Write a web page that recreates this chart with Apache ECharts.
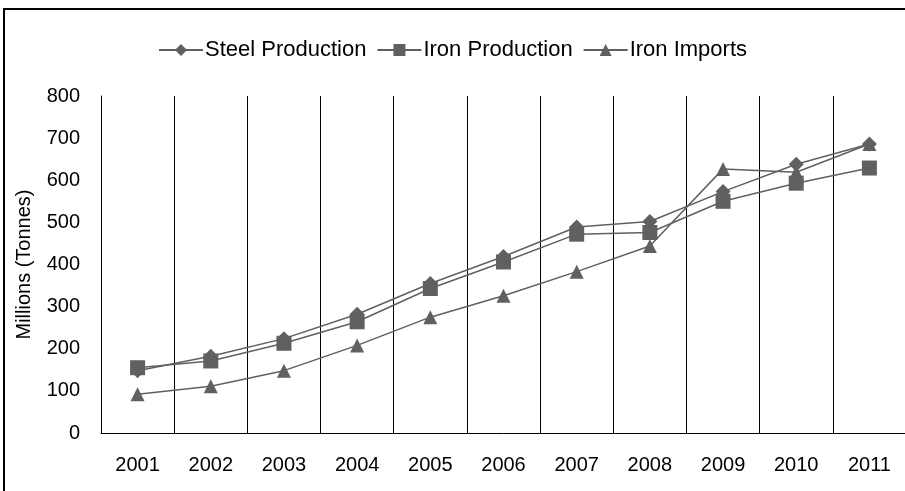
<!DOCTYPE html>
<html><head><meta charset="utf-8">
<script src="https://cdn.jsdelivr.net/npm/echarts@6/dist/echarts.min.js"></script>
<style>html,body{margin:0;padding:0;background:#fff}#c{width:905px;height:491px}</style>
</head><body><div id="c"></div>
<script>
const years = ['2001','2002','2003','2004','2005','2006','2007','2008','2009','2010','2011'];
const steelProduction = [148, 182, 224, 282, 355, 419, 489, 502, 573, 638, 686];
const ironProduction = [155, 171, 213, 264, 343, 406, 472, 476, 550, 593, 629];
const ironImports = [92, 111, 148, 208, 275, 326, 383, 444, 627, 619, 686];
const yTicks = [0, 100, 200, 300, 400, 500, 600, 700, 800];

const font = 'Liberation Sans, Arial, sans-serif';
const col = '#606060';
const chart = echarts.init(document.getElementById('c'), null, {renderer: 'canvas'});
function s(name, data, symbol, size) {
  return {name, type: 'line', data, symbol, symbolSize: size,
    lineStyle: {color: col, width: 1.5}, itemStyle: {color: col},
    emphasis: {disabled: true}, animation: false};
}
chart.setOption({
  animation: false,
  graphic: [{type: 'rect', shape: {x: 4, y: 9, width: 1000, height: 1000},
    style: {fill: 'none', stroke: '#000', lineWidth: 2}, silent: true}],
  legend: {top: 34, left: 'center', itemWidth: 44, itemHeight: 15, itemGap: 10,
    textStyle: {fontFamily: font, fontSize: 22, color: '#000', padding: [0,0,0,-3]},
    data: ['Steel Production', 'Iron Production', 'Iron Imports']},
  grid: {left: 101, right: -1, top: 96, bottom: 58, outerBoundsMode: 'none', containLabel: false},
  xAxis: {type: 'category', data: years, boundaryGap: true,
    axisLine: {lineStyle: {color: '#000', width: 1}},
    axisTick: {show: false},
    axisLabel: {fontFamily: font, fontSize: 20, color: '#000', margin: 22},
    splitLine: {show: true, lineStyle: {color: '#000', width: 1}}},
  yAxis: {type: 'value', min: yTicks[0], max: yTicks[yTicks.length-1], interval: 100,
    name: 'Millions (Tonnes)', nameLocation: 'middle', nameGap: 67, nameRotate: 90,
    nameTextStyle: {fontFamily: font, fontSize: 20, color: '#000'},
    axisLine: {show: true, lineStyle: {color: '#000', width: 1}},
    axisTick: {show: false},
    axisLabel: {fontFamily: font, fontSize: 20, color: '#000', margin: 21},
    splitLine: {show: false}},
  series: [
    s('Steel Production', steelProduction, 'diamond', 15),
    s('Iron Production', ironProduction, 'rect', 15),
    s('Iron Imports', ironImports, 'triangle', 14)
  ]
});
</script></body></html>
